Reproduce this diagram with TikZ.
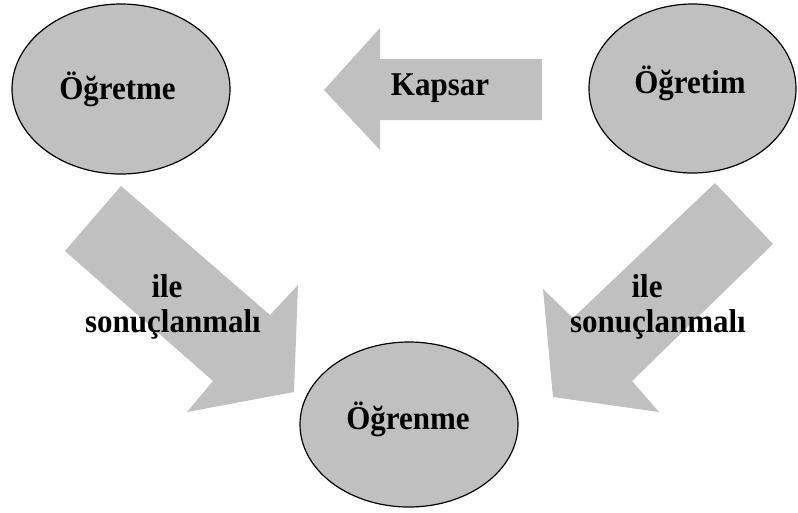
\documentclass[tikz,border=0pt]{standalone}
\usepackage{fontspec}
\setmainfont{Liberation Serif}
\usetikzlibrary{shapes.geometric}
\definecolor{fillgray}{HTML}{C0C0C0}
\begin{document}
\begin{tikzpicture}[x=1pt,y=-1pt,
  ell/.style={ellipse, draw=black, line width=1.2pt, fill=fillgray, inner sep=0pt},
  blockarrow/.style={fill=fillgray, draw=none},
  lbl/.style={anchor=base, inner sep=0pt, yscale=1.07, transform shape, font=\fontsize{31}{35}\selectfont\bfseries}]
\useasboundingbox (0,0) rectangle (798,512);
% block arrows
\fill[blockarrow] (542,59) -- (380,59) -- (380,28) -- (324,90) -- (380,150) -- (380,120) -- (542,120) -- cycle;
\fill[blockarrow] (121,186) -- (270,315) -- (298,285) -- (294,392) -- (187,412) -- (213,381) -- (65,251) -- cycle;
\fill[blockarrow] (715,183) -- (773,244) -- (632,381) -- (659,412) -- (553,397) -- (543,289) -- (573,318) -- cycle;
% ellipses
\node[ell, minimum width=218pt, minimum height=170pt] (ogretme) at (121,89) {};
\node[ell, minimum width=207pt, minimum height=169pt] (ogretim) at (692.5,88.5) {};
\node[ell, minimum width=218pt, minimum height=165pt] (ogrenme) at (409,424.5) {};
% labels
\node[lbl] (t1) at (117.5,99) {Öğretme};
\node[lbl] (t2) at (690,93) {Öğretim};
\node[lbl] (t3) at (408,429) {Öğrenme};
\node[lbl] (t4) at (440,95) {Kapsar};
\node[lbl] (t5) at (167,297) {ile};
\node[lbl] (t6) at (173,332) {sonuçlanmalı};
\node[lbl] (t7) at (647,297) {ile};
\node[lbl] (t8) at (658,332) {sonuçlanmalı};
\end{tikzpicture}
\end{document}
